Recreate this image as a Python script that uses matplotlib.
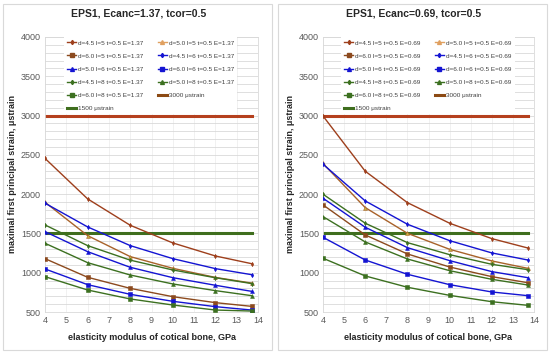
import matplotlib
matplotlib.use("Agg")
import matplotlib.pyplot as plt
from matplotlib.patches import Rectangle
from matplotlib.lines import Line2D

plt.rcParams['font.family'] = ['Liberation Sans', 'DejaVu Sans']

x = [4, 6, 8, 10, 12, 13.7]

titles = ["EPS1, Ecanc=1.37, tcor=0.5", "EPS1, Ecanc=0.69, tcor=0.5"]
e_labels = ["1.37", "0.69"]
series_names = ["d=4.5 l=5", "d=5.0 l=5", "d=6.0 l=5",
                "d=4.5 l=6", "d=5.0 l=6", "d=6.0 l=6",
                "d=4.5 l=8", "d=5.0 l=8", "d=6.0 l=8"]

left_vals = [
    [2455, 1940, 1604, 1379, 1213, 1115],   # d=4.5 l=5
    [1897, 1472, 1205, 1056, 940, 868],     # d=5.0 l=5
    [1179, 942, 801, 695, 619, 572],        # d=6.0 l=5
    [1885, 1583, 1345, 1179, 1052, 975],    # d=4.5 l=6
    [1523, 1268, 1069, 937, 840, 763],      # d=5.0 l=6
    [1048, 848, 725, 636, 568, 525],        # d=6.0 l=6
    [1608, 1345, 1160, 1035, 936, 862],     # d=4.5 l=8
    [1375, 1128, 971, 857, 772, 708],       # d=5.0 l=8
    [950, 780, 666, 589, 525, 512],         # d=6.0 l=8
]
right_vals = [
    [2995, 2292, 1892, 1630, 1434, 1315],   # d=4.5 l=5
    [2390, 1829, 1502, 1298, 1150, 1056],   # d=5.0 l=5
    [1863, 1481, 1239, 1073, 950, 873],     # d=6.0 l=5
    [2381, 1914, 1617, 1408, 1252, 1162],   # d=4.5 l=6
    [1948, 1579, 1319, 1154, 1014, 937],    # d=5.0 l=6
    [1451, 1162, 980, 848, 755, 708],       # d=6.0 l=6
    [1999, 1630, 1383, 1230, 1107, 1039],   # d=4.5 l=8
    [1714, 1392, 1175, 1026, 916, 844],     # d=5.0 l=8
    [1184, 959, 815, 712, 631, 585],        # d=6.0 l=8
]
limit_high = [3000, 3000, 3000, 3000, 3000, 3000]
limit_low = [1500, 1500, 1500, 1500, 1500, 1500]

BROWN = '#9E3F1C'
TAN = '#A8622A'
BROWN2 = '#8C4A1E'
BLUE = '#1414D2'
GREEN = '#3C7020'
line_colors = [BROWN, TAN, BROWN2, BLUE, BLUE, BLUE, GREEN, GREEN, GREEN]
legend_colors = [BROWN, '#E0A060', BROWN2, BLUE, BLUE, BLUE, GREEN, GREEN, GREEN]
marker_face = [BROWN, '#C8B040', BROWN2, BLUE, BLUE, BLUE, GREEN, GREEN, GREEN]
markers = ['d', '^', 's', 'd', '^', 's', 'd', '^', 's']
msizes = [2.2, 2.8, 3.2, 2.2, 2.8, 3.2, 2.2, 2.8, 3.2]

fig = plt.figure(figsize=(5.5, 3.53), dpi=100)

axes_pos = [[45/550, 1-312/353, 213/550, 275/353],
            [323/550, 1-312/353, 211/550, 275/353]]
panel_x = [3, 278]
leg_anchor_x = [0.072, 0.068]

for k, vals in enumerate([left_vals, right_vals]):
    # chart-area frame
    fig.patches.append(Rectangle((panel_x[k]/550, 3/353), 269/550, 346/353,
                                 transform=fig.transFigure, fill=False,
                                 edgecolor='#D9D9D9', linewidth=0.8))
    ax = fig.add_axes(axes_pos[k])
    ax.set_xlim(4, 14)
    ax.set_ylim(500, 4000)
    ax.set_xticks(range(4, 15))
    ax.set_yticks(range(500, 4001, 500))
    ax.set_yticks(range(500, 4001, 100), minor=True)
    ax.grid(True, which='both', axis='y', color='#D9D9D9', linewidth=0.6)
    ax.grid(True, which='major', axis='x', color='#EBEBEB', linewidth=0.5)
    ax.set_axisbelow(True)
    for s in ax.spines.values():
        s.set_color('#D9D9D9')
        s.set_linewidth(0.6)
    ax.tick_params(axis='both', which='both', length=0, labelsize=6.5,
                   labelcolor='#595959', pad=3)

    handles = []
    for i in range(9):
        ax.plot(x, vals[i], color=line_colors[i], linewidth=1.0,
                marker=markers[i], markersize=msizes[i],
                markerfacecolor=marker_face[i], markeredgecolor=line_colors[i],
                markeredgewidth=0.4, zorder=3)
        handles.append(Line2D([], [], color=legend_colors[i], linewidth=1.0,
                              marker=markers[i], markersize=msizes[i],
                              markerfacecolor=legend_colors[i],
                              markeredgecolor=legend_colors[i],
                              label=f"{series_names[i]} t=0.5 E={e_labels[k]}"))
    ax.plot(x, limit_high, color='#B5401E', linewidth=2.2, zorder=2)
    ax.plot(x, limit_low, color='#3F6E1E', linewidth=2.2, zorder=2)
    handles.append(Line2D([], [], color='#8C4A14', linewidth=2.2, label='3000 μstrain'))
    handles.append(Line2D([], [], color='#3F6E1E', linewidth=2.2, label='1500 μstrain'))

    order = [0, 2, 4, 6, 8, 10, 1, 3, 5, 7, 9]
    leg = ax.legend([handles[j] for j in order], [handles[j].get_label() for j in order],
                    ncol=2, loc='upper left', bbox_to_anchor=(leg_anchor_x[k], 1.012),
                    fontsize=4.6, frameon=True, framealpha=1.0,
                    edgecolor='white', facecolor='white', fancybox=False,
                    handlelength=1.5, handletextpad=0.3, columnspacing=2.2,
                    labelspacing=1.2, borderpad=0.5)
    leg.get_frame().set_linewidth(0)
    for t in leg.get_texts():
        t.set_color('#404040')

    ax.set_xlabel("elasticity modulus of cotical bone, GPa", fontsize=6.5,
                  fontweight='bold', color='#262626', labelpad=6)
    ax.set_ylabel("maximal first principal strain, μstrain", fontsize=6.5,
                  fontweight='bold', color='#262626', labelpad=3)
    fig.text((panel_x[k] + 136)/550, 1 - 13/353, titles[k], ha='center', va='center',
             fontsize=7.5, fontweight='bold', color='#262626')

fig.savefig("out.png", dpi=100)
